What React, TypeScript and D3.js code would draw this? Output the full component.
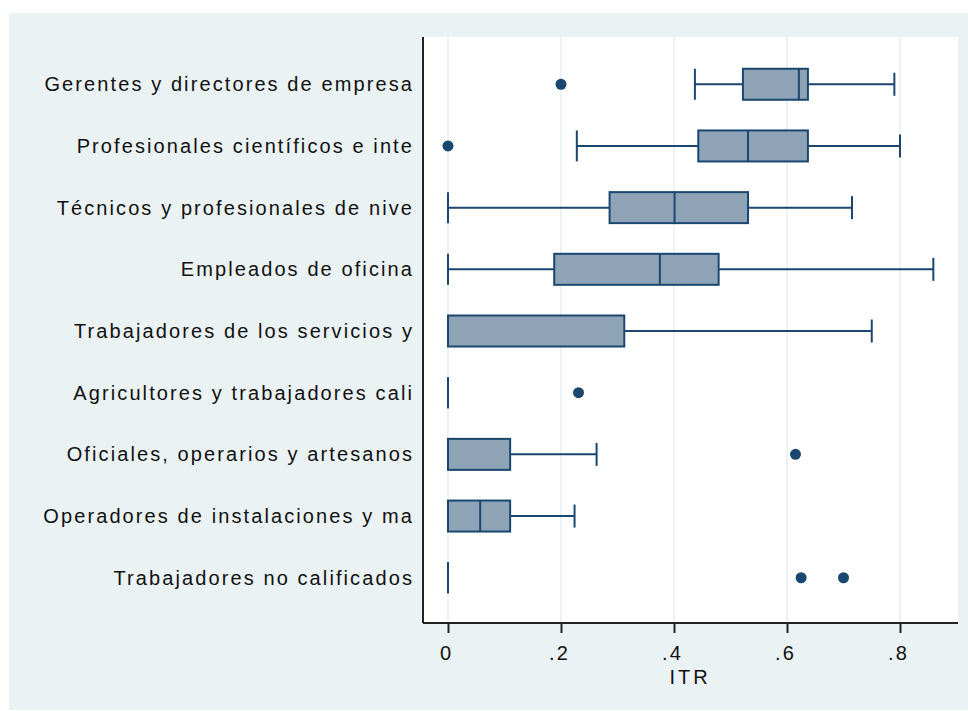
import React, { useEffect, useRef } from "react";
import * as d3 from "d3";

const categories = [
    "Gerentes y directores de empresa",
    "Profesionales científicos e inte",
    "Técnicos y profesionales de nive",
    "Empleados de oficina",
    "Trabajadores de los servicios y",
    "Agricultores y trabajadores cali",
    "Oficiales, operarios y artesanos",
    "Operadores de instalaciones y ma",
    "Trabajadores no calificados",
];

// lower whisker, q1, median, q3, upper whisker
const whiskerLow = [0.437, 0.228, 0, 0, 0, 0, 0, 0, 0];
const q1 = [0.522, 0.443, 0.286, 0.188, 0, 0, 0, 0, 0];
const median = [0.621, 0.531, 0.401, 0.375, 0, 0, 0, 0.057, 0];
const q3 = [0.637, 0.637, 0.531, 0.479, 0.312, 0, 0.11, 0.11, 0];
const whiskerHigh = [0.79, 0.8, 0.715, 0.859, 0.75, 0, 0.263, 0.224, 0];
const outliers: number[][] = [[0.2], [0], [], [], [], [0.231], [0.615], [], [0.625, 0.7]];

const xTicks = [0, 0.2, 0.4, 0.6, 0.8];
const xTickLabels = ["0", ".2", ".4", ".6", ".8"];

const W = 968;
const H = 711;

const App = () => {
    const svgRef = useRef(null);

    useEffect(() => {
        const svg = d3.select(svgRef.current);
        svg.selectAll("*").remove();

        const plot = { left: 423, right: 958, top: 37, bottom: 623 };
        const font = "'Liberation Sans', Arial, sans-serif";
        const navy = "#1a476f";
        const spacing = "2.1px";

        svg.append("rect").attr("x", 9).attr("y", 13).attr("width", W - 9).attr("height", 697).attr("fill", "#eaf2f3");
        svg.append("rect")
            .attr("x", plot.left)
            .attr("y", plot.top)
            .attr("width", plot.right - plot.left)
            .attr("height", plot.bottom - plot.top)
            .attr("fill", "#fff");

        const x = d3.scaleLinear().domain([0, 0.8]).range([448, 900]);
        const y = d3.scalePoint<string>().domain(categories).range([plot.top + 1, plot.bottom + 1]).padding(0.75);

        // grid
        svg.append("g")
            .selectAll("line")
            .data(xTicks)
            .enter()
            .append("line")
            .attr("x1", (d) => x(d))
            .attr("x2", (d) => x(d))
            .attr("y1", plot.top)
            .attr("y2", plot.bottom)
            .attr("stroke", "#e6eef2")
            .attr("stroke-width", 1.5);

        // x axis
        const xAxis = svg
            .append("g")
            .attr("transform", `translate(0,${plot.bottom})`)
            .call(
                d3.axisBottom(x)
                    .tickValues(xTicks)
                    .tickFormat((_d, i) => xTickLabels[i])
                    .tickSizeInner(10)
                    .tickSizeOuter(0)
                    .tickPadding(13)
            );
        xAxis.select(".domain").attr("d", `M${plot.left},0H${plot.right}`).attr("stroke", "#222").attr("stroke-width", 2);
        xAxis.selectAll(".tick line").attr("stroke", "#222").attr("stroke-width", 2);
        xAxis.selectAll(".tick text")
            .attr("font-family", font)
            .attr("font-size", 20)
            .attr("fill", "#111")
            .attr("dx", "-2px")
            .style("letter-spacing", spacing);

        svg.append("text")
            .attr("x", 690)
            .attr("y", 684)
            .attr("text-anchor", "middle")
            .attr("font-family", font)
            .attr("font-size", 20)
            .attr("fill", "#111")
            .style("letter-spacing", "3px")
            .text("ITR");

        // y axis
        svg.append("line")
            .attr("x1", plot.left)
            .attr("x2", plot.left)
            .attr("y1", plot.top)
            .attr("y2", plot.bottom)
            .attr("stroke", "#222")
            .attr("stroke-width", 2);

        svg.append("g")
            .selectAll("text")
            .data(categories)
            .enter()
            .append("text")
            .attr("x", 414)
            .attr("y", (d) => y(d)!)
            .attr("dy", "0.35em")
            .attr("text-anchor", "end")
            .attr("font-family", font)
            .attr("font-size", 20)
            .attr("fill", "#111")
            .style("letter-spacing", spacing)
            .text((d) => d);

        const boxH = 31;
        const rows = svg
            .append("g")
            .selectAll("g")
            .data(categories)
            .enter()
            .append("g")
            .attr("transform", (d) => `translate(0,${y(d)})`);

        rows.append("line")
            .attr("x1", (_d, i) => x(whiskerLow[i]))
            .attr("x2", (_d, i) => x(whiskerHigh[i]))
            .attr("stroke", navy)
            .attr("stroke-width", 2);

        rows.append("line")
            .attr("x1", (_d, i) => x(whiskerLow[i]))
            .attr("x2", (_d, i) => x(whiskerLow[i]))
            .attr("y1", -boxH / 2)
            .attr("y2", boxH / 2)
            .attr("stroke", navy)
            .attr("stroke-width", 2);
        rows.append("line")
            .attr("x1", (_d, i) => x(whiskerHigh[i]))
            .attr("x2", (_d, i) => x(whiskerHigh[i]))
            .attr("y1", -boxH / 2 + 4)
            .attr("y2", boxH / 2 - 4)
            .attr("stroke", navy)
            .attr("stroke-width", 2);

        rows.filter((_d, i) => q3[i] > q1[i])
            .append("rect")
            .attr("x", (d) => x(q1[categories.indexOf(d)]))
            .attr("width", (d) => x(q3[categories.indexOf(d)]) - x(q1[categories.indexOf(d)]))
            .attr("y", -boxH / 2)
            .attr("height", boxH)
            .attr("fill", "#8fa3b7")
            .attr("stroke", navy)
            .attr("stroke-width", 2);

        rows.append("line")
            .attr("x1", (_d, i) => x(median[i]))
            .attr("x2", (_d, i) => x(median[i]))
            .attr("y1", -boxH / 2)
            .attr("y2", boxH / 2)
            .attr("stroke", navy)
            .attr("stroke-width", 2);

        rows.selectAll("circle")
            .data((_d, i) => outliers[i])
            .enter()
            .append("circle")
            .attr("cx", (d) => x(d))
            .attr("r", 5.5)
            .attr("fill", navy);
    }, []);

    return (
        <svg
            ref={svgRef}
            width={W}
            height={H}
            style={{ position: "absolute", left: 0, top: 0, display: "block", background: "#fff" }}
        ></svg>
    );
};

export default App;
